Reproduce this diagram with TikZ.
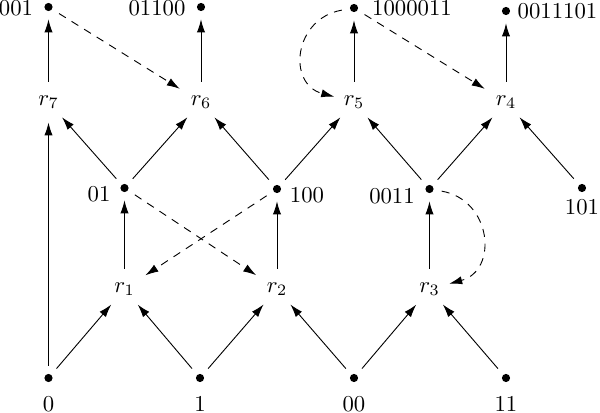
\documentclass[tikz,border=0pt]{standalone}
\usetikzlibrary{arrows.meta}
\begin{document}
\begin{tikzpicture}[x=0.44pt,y=0.44pt,
  dot/.style={circle,inner sep=0pt,minimum size=10.5pt,
    path picture={\fill (path picture bounding box.center) circle (1.8pt);}},
  rn/.style={circle,inner sep=0pt,minimum size=17.6pt},
  lbl/.style={inner sep=0pt},
  arr/.style={-{Latex[length=5.7pt,width=3.6pt]},line width=0.4pt},
  darr/.style={arr,dash pattern=on 3.5pt off 3pt},
  dsh/.style={darr,shorten >=2pt},
]
\useasboundingbox (0,0) rectangle (600,413);
% top dots
\node[dot] (a001) at (48.5,406) {};
\node[dot] (a01100) at (201,406) {};
\node[dot] (a1000011) at (354,405) {};
\node[dot] (a0011101) at (506,402) {};
% upper r row
\node[rn] (r7) at (48.5,311) {$r_7$};
\node[rn] (r6) at (201,311) {$r_6$};
\node[rn] (r5) at (354,311) {$r_5$};
\node[rn] (r4) at (506,311) {$r_4$};
% middle dots
\node[dot] (a01) at (124.5,225) {};
\node[dot] (a100) at (277,224) {};
\node[dot] (a0011) at (429.5,224) {};
\node[dot] (a101) at (582,225) {};
% lower r row
\node[rn] (r1) at (124.5,124) {$r_1$};
\node[rn] (r2) at (277,124) {$r_2$};
\node[rn] (r3) at (429.5,124) {$r_3$};
% bottom dots
\node[dot] (a0) at (48.5,35) {};
\node[dot] (a1) at (200,35) {};
\node[dot] (a00) at (354,35) {};
\node[dot] (a11) at (506,35) {};
% labels
\node[lbl] (l001) at (16,404.5) {001};
\node[lbl] (l01100) at (157,405) {01100};
\node[lbl] (l1000011) at (412,405) {1000011};
\node[lbl] (l0011101) at (557.5,402) {0011101};
\node[lbl] (l01) at (99,219) {01};
\node[lbl] (l100) at (307,218) {100};
\node[lbl] (l0011) at (392,217) {0011};
\node[lbl] (l101) at (582,205.5) {101};
\node[lbl] (l0) at (48.5,9) {0};
\node[lbl] (l1) at (200,9) {1};
\node[lbl] (l00) at (354,9) {00};
\node[lbl] (l11) at (506,9) {11};
% solid edges
\draw[arr] (a0) -- (r7);
\draw[arr] (a0) -- (r1);
\draw[arr] (a1) -- (r1);
\draw[arr] (a1) -- (r2);
\draw[arr] (a00) -- (r2);
\draw[arr] (a00) -- (r3);
\draw[arr] (a11) -- (r3);
\draw[arr] (r1) -- (a01);
\draw[arr] (r2) -- (a100);
\draw[arr] (r3) -- (a0011);
\draw[arr] (a01) -- (r7);
\draw[arr] (a01) -- (r6);
\draw[arr] (a100) -- (r6);
\draw[arr] (a100) -- (r5);
\draw[arr] (a0011) -- (r5);
\draw[arr] (a0011) -- (r4);
\draw[arr] (a101) -- (r4);
\draw[arr] (r7) -- (a001);
\draw[arr] (r6) -- (a01100);
\draw[arr] (r5) -- (a1000011);
\draw[arr] (r4) -- (a0011101);
% dashed edges
\draw[dsh] (a001) -- (r6);
\draw[dsh] (a1000011) -- (r4);
\draw[dsh] (a01) -- (r2);
\draw[dsh] (a100) -- (r1);
\draw[darr] (a1000011.190) .. controls +(190:49) and +(165:49) .. (r5.165);
\draw[darr] (a0011.-10) .. controls +(-10:51) and +(15:51) .. (r3.15);
\end{tikzpicture}
\end{document}
